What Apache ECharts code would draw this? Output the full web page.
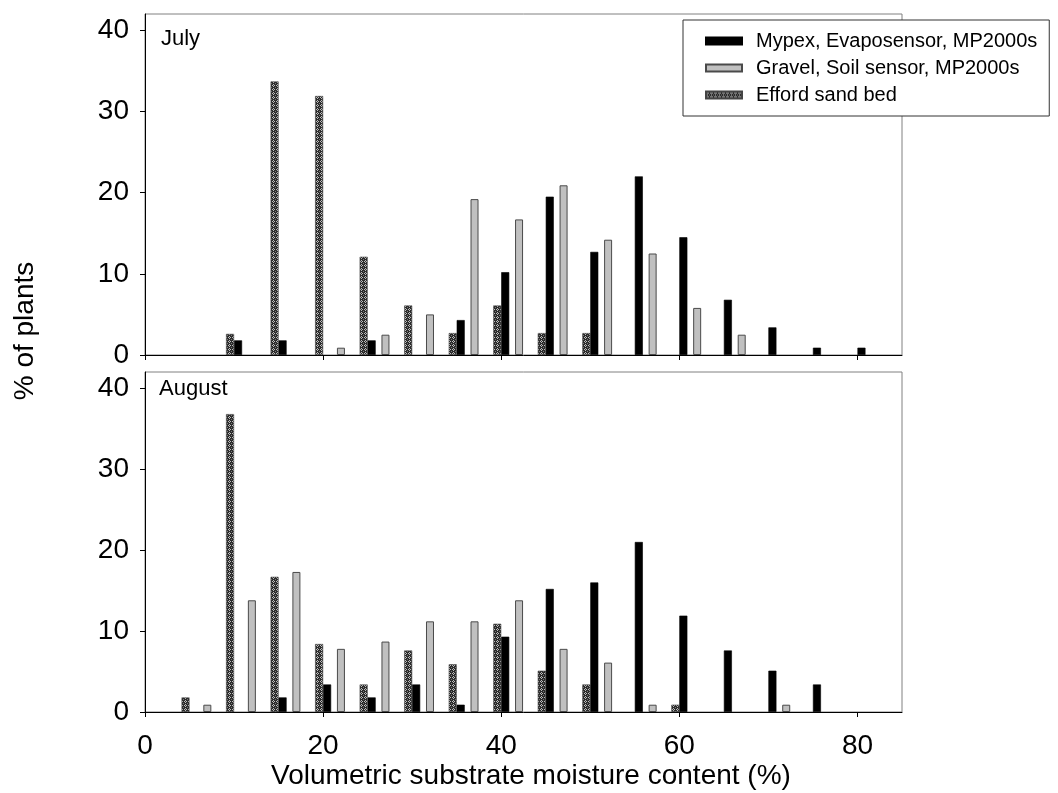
<!DOCTYPE html>
<html>
<head>
<meta charset="utf-8">
<title>Substrate moisture distribution</title>
<script src="https://cdn.jsdelivr.net/npm/echarts@6/dist/echarts.min.js"></script>
<style>
  html, body { margin: 0; padding: 0; background: #fff; }
  #chart { width: 1058px; height: 793px; }
</style>
</head>
<body>
<div id="chart"></div>
<script>
// Moisture bins (%) for the sand bed / Mypex pairs, and for the gravel bars
const pairBins   = [5, 10, 15, 20, 25, 30, 35, 40, 45, 50, 55, 60, 65, 70, 75, 80];
const gravelBins = [7, 12, 17, 22, 27, 32, 37, 42, 47, 52, 57, 62, 67, 72, 77, 82];

// July, % of plants
const julySand   = [0, 2.6, 33.7, 31.9, 12.1, 6.1, 2.7, 6.1, 2.7, 2.7, 0, 0, 0, 0, 0, 0];
const julyMypex  = [0, 1.8, 1.8, 0, 1.8, 0, 4.3, 10.2, 19.5, 12.7, 22.0, 14.5, 6.8, 3.4, 0.9, 0.9];
const julyGravel = [0, 0, 0, 0.9, 2.5, 5.0, 19.2, 16.7, 20.9, 14.2, 12.5, 5.8, 2.5, 0, 0, 0];

// August, % of plants
const augSand   = [1.8, 36.8, 16.7, 8.4, 3.4, 7.6, 5.9, 10.9, 5.1, 3.4, 0, 0.9, 0, 0, 0, 0];
const augMypex  = [0, 0, 1.8, 3.4, 1.8, 3.4, 0.9, 9.3, 15.2, 16.0, 21.0, 11.9, 7.6, 5.1, 3.4, 0];
const augGravel = [0.9, 13.8, 17.3, 7.8, 8.7, 11.2, 11.2, 13.8, 7.8, 6.1, 0.9, 0, 0, 0.9, 0, 0];

const xTicks = [0, 20, 40, 60, 80];
const yTicks = [0, 10, 20, 30, 40];
const panelNames = ['July', 'August'];
const seriesNames = ['Mypex, Evaposensor, MP2000s', 'Gravel, Soil sensor, MP2000s', 'Efford sand bed'];

const FONT = '"Liberation Sans", Arial, sans-serif';

// Dotted dark fill used for the sand bed bars
function sandPattern() {
  const c = document.createElement('canvas');
  c.width = 4; c.height = 4;
  const g = c.getContext('2d');
  g.fillStyle = '#2b2b2b'; g.fillRect(0, 0, 4, 4);
  g.fillStyle = '#bdbdbd';
  [[1, 0], [0, 1], [2, 1], [1, 2]].forEach(p => g.fillRect(p[0], p[1], 1, 1));
  g.fillStyle = '#7a7a7a';
  g.fillRect(3, 3, 1, 1);
  return { image: c, repeat: 'repeat' };
}
const sandFill = sandPattern();

function pairs(bins, vals) {
  return bins.map((b, i) => [b, vals[i]]).filter(p => p[1] > 0);
}

const grids = [
  { left: 145, right: 156, top: 14, height: 341 },
  { left: 145, right: 156, top: 372, height: 340 }
];

const xAxes = [];
const yAxes = [];
grids.forEach((g, gi) => {
  const showLabels = gi === 1;
  // main axis (sand + Mypex pairs)
  xAxes.push({
    type: 'value', gridIndex: gi, min: 0, max: 85,
    axisLine: { show: true, lineStyle: { color: '#000', width: 1 } },
    axisTick: { show: true, inside: false, length: 5, customValues: xTicks, lineStyle: { color: '#000' } },
    axisLabel: { show: showLabels, customValues: xTicks, margin: 20, fontFamily: FONT, fontSize: 28, color: '#000' },
    splitLine: { show: false }
  });
  // overlay axis (gravel bars), same scale
  xAxes.push({
    type: 'value', gridIndex: gi, min: 0, max: 85, show: false,
    splitLine: { show: false }
  });
  yAxes.push({
    type: 'value', gridIndex: gi, min: 0, max: 42,
    axisLine: { show: true, lineStyle: { color: '#000', width: 1 } },
    axisTick: { show: true, inside: false, length: 5, customValues: yTicks, lineStyle: { color: '#000' } },
    axisLabel: { customValues: yTicks, margin: 16, fontFamily: FONT, fontSize: 28, color: '#000' },
    splitLine: { show: false }
  });
});

const panels = [
  { sand: julySand, mypex: julyMypex, gravel: julyGravel },
  { sand: augSand, mypex: augMypex, gravel: augGravel }
];

const series = [];
panels.forEach((p, gi) => {
  series.push({
    name: seriesNames[2], type: 'bar', xAxisIndex: gi * 2, yAxisIndex: gi,
    barWidth: 8, barGap: '0%',
    itemStyle: { color: sandFill, borderColor: '#444', borderWidth: 0.6 },
    data: pairs(pairBins, p.sand)
  });
  series.push({
    name: seriesNames[0], type: 'bar', xAxisIndex: gi * 2, yAxisIndex: gi,
    barWidth: 8, barGap: '0%',
    itemStyle: { color: '#000', borderColor: '#000', borderWidth: 0.6 },
    data: pairs(pairBins, p.mypex)
  });
  series.push({
    name: seriesNames[1], type: 'bar', xAxisIndex: gi * 2 + 1, yAxisIndex: gi,
    barWidth: 8,
    itemStyle: { color: '#c0c0c0', borderColor: '#4a4a4a', borderWidth: 1 },
    data: pairs(gravelBins, p.gravel)
  });
});

const chart = echarts.init(document.getElementById('chart'), null, { renderer: 'canvas' });
chart.setOption({
  animation: false,
  backgroundColor: '#fff',
  grid: grids.map(g => Object.assign({ show: true, borderColor: '#808080', borderWidth: 1, backgroundColor: 'transparent' }, g)),
  xAxis: xAxes,
  yAxis: yAxes,
  legend: {
    data: seriesNames,
    orient: 'vertical',
    left: 683, top: 20,
    itemWidth: 36, itemHeight: 7, itemGap: 7,
    padding: [11, 12, 11, 22],
    backgroundColor: '#fff',
    borderColor: '#333', borderWidth: 1, borderRadius: 0,
    icon: 'rect',
    textStyle: { fontFamily: FONT, fontSize: 20, lineHeight: 20, color: '#000', padding: [0, 0, 0, 9] },
    z: 10
  },
  graphic: [
    { type: 'text', left: 161, top: 28, z: 20,
      style: { text: panelNames[0], font: '22px ' + FONT, fill: '#000' } },
    { type: 'text', left: 159, top: 378, z: 20,
      style: { text: panelNames[1], font: '22px ' + FONT, fill: '#000' } },
    { type: 'text', x: 531, y: 776, z: 20,
      style: { text: 'Volumetric substrate moisture content (%)', font: '28px ' + FONT, fill: '#000', align: 'center', verticalAlign: 'middle' } },
    { type: 'text', x: 25, y: 331, rotation: Math.PI / 2, z: 20,
      style: { text: '% of plants', font: '28px ' + FONT, fill: '#000', align: 'center', verticalAlign: 'middle' } }
  ],
  series: series
});
</script>
</body>
</html>
